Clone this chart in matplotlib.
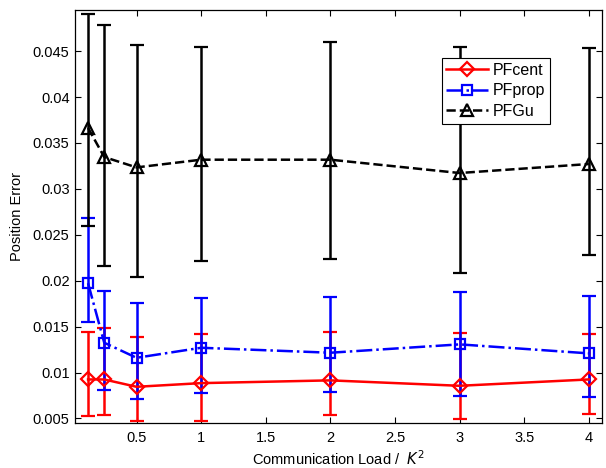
import matplotlib
matplotlib.use('Agg')
import matplotlib.pyplot as plt
from matplotlib.lines import Line2D

plt.rcParams['font.family'] = ['Liberation Sans', 'DejaVu Sans']
plt.rcParams['font.size'] = 10.5

# communication load
load = [0.125, 0.25, 0.5, 1, 2, 3, 4]

# PFcent
cent = [0.00925, 0.00925, 0.00845, 0.00885, 0.00915, 0.00856, 0.00925]
cent_lo = [0.00525, 0.00536, 0.00474, 0.00478, 0.00536, 0.00489, 0.00544]
cent_hi = [0.01445, 0.01485, 0.01384, 0.01423, 0.01438, 0.01427, 0.01420]

# PFprop
prop = [0.01973, 0.01325, 0.01161, 0.01270, 0.01216, 0.01307, 0.01209]
prop_lo = [0.01550, 0.00809, 0.00707, 0.00779, 0.00784, 0.00750, 0.00729]
prop_hi = [0.02682, 0.01892, 0.01761, 0.01816, 0.01823, 0.01875, 0.01838]

# PFGu
gu = [0.03664, 0.03347, 0.03234, 0.03318, 0.03318, 0.03173, 0.03271]
gu_lo = [0.02600, 0.02161, 0.02045, 0.02220, 0.02234, 0.02082, 0.02285]
gu_hi = [0.04903, 0.04783, 0.04565, 0.04543, 0.04597, 0.04540, 0.04532]

series = [
    ('PFcent', cent, cent_lo, cent_hi, 'red', '-', 'D', 7),
    ('PFprop', prop, prop_lo, prop_hi, 'blue', '-.', 's', 7),
    ('PFGu', gu, gu_lo, gu_hi, 'black', '--', '^', 8),
]

fig = plt.figure(figsize=(6.06, 4.68), dpi=100)
ax = fig.add_axes([0.124, 0.096, 0.869, 0.883])

handles = []
for name, y, lo, hi, col, ls, mk, ms in series:
    err = [[v - l for v, l in zip(y, lo)], [h - v for v, h in zip(y, hi)]]
    ax.errorbar(load, y, yerr=err, color=col, ls=ls, lw=1.8,
                marker=mk, ms=ms, mfc='none', mec=col, mew=1.6,
                ecolor=col, elinewidth=1.8, capsize=5, capthick=1.8)
    handles.append(Line2D([], [], color=col, ls=ls, lw=1.8, marker=mk,
                          ms=ms, mfc='none', mec=col, mew=1.6, label=name))

ax.set_xlim(0.025, 4.1)
ax.set_ylim(0.0045, 0.0495)
ax.set_xticks([0.5, 1, 1.5, 2, 2.5, 3, 3.5, 4])
ax.set_xticklabels(['0.5', '1', '1.5', '2', '2.5', '3', '3.5', '4'])
ax.set_yticks([0.005, 0.01, 0.015, 0.02, 0.025, 0.03, 0.035, 0.04, 0.045])
ax.set_yticklabels(['0.005', '0.01', '0.015', '0.02', '0.025', '0.03',
                    '0.035', '0.04', '0.045'])
ax.tick_params(direction='in', top=True, right=True, length=4, width=0.8)
ax.tick_params(axis='x', pad=6)
ax.tick_params(axis='y', pad=4)
for s in ax.spines.values():
    s.set_linewidth(0.9)

ax.set_xlabel('Communication Load /  $K^2$', labelpad=3)
ax.set_ylabel('Position Error', labelpad=6)

leg = ax.legend(handles=handles, loc='upper left',
                bbox_to_anchor=(0.696, 0.884), fontsize=11.5,
                fancybox=False, edgecolor='black', framealpha=1,
                borderpad=0.3, labelspacing=0.35, handlelength=2.6,
                handletextpad=0.3, borderaxespad=0)
leg.get_frame().set_linewidth(0.8)

fig.savefig('out.png', dpi=100)
